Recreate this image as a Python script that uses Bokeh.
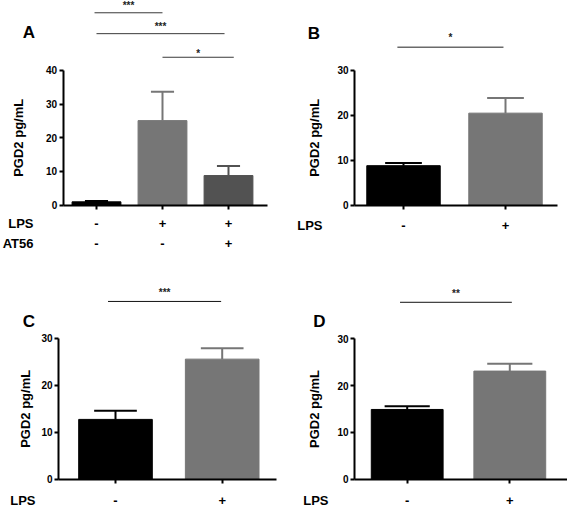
import math
from bokeh.plotting import figure
from bokeh.models import Range1d, FixedTicker, LinearAxis, ColumnDataSource
from bokeh.layouts import gridplot
from bokeh.embed import file_html
from bokeh.resources import INLINE
from bokeh.core.properties import value

FONT = "Liberation Sans"

# ---------------- data ----------------
# Panel A
a_groups = [1, 2, 3]
a_lps = ["-", "+", "+"]
a_at56 = ["-", "-", "+"]
a_mean = [1.0, 25.1, 8.8]
a_err = [0.25, 8.6, 2.8]
a_sig_x0 = [0.97, 1.0, 2.0]
a_sig_x1 = [2.0, 2.94, 3.08]
a_sig_y = [57.1, 50.9, 43.9]
a_sig_txt = ["***", "***", "*"]

# Panel B
b_groups = [1, 2]
b_lps = ["-", "+"]
b_mean = [8.8, 20.5]
b_err = [0.6, 3.4]
b_sig_x0 = [0.94]
b_sig_x1 = [1.98]
b_sig_y = [35.2]
b_sig_txt = ["*"]

# Panel C
c_groups = [1, 2]
c_lps = ["-", "+"]
c_mean = [12.75, 25.6]
c_err = [1.85, 2.3]
c_sig_x0 = [0.93]
c_sig_x1 = [1.99]
c_sig_y = [37.9]
c_sig_txt = ["***"]

# Panel D
d_groups = [1, 2]
d_lps = ["-", "+"]
d_mean = [14.9, 23.1]
d_err = [0.7, 1.55]
d_sig_x0 = [0.93]
d_sig_x1 = [2.02]
d_sig_y = [37.8]
d_sig_txt = ["**"]

y_ticks_40 = [0, 10, 20, 30, 40]
y_ticks_30 = [0, 10, 20, 30]
y_title = "PGD2 pg/mL"

BLACK = "#000000"
GREY = "#767676"
DARK = "#525252"


def txt(p, x, y, t, size, align="center", angle=0.0, yoff=0.0, color="black"):
    src = ColumnDataSource(dict(x=x, y=y, t=t))
    p.text(x="x", y="y", text="t", source=src, angle=angle, y_offset=yoff,
           text_align=align, text_baseline="middle",
           text_font=value(FONT), text_font_style="bold",
           text_font_size=size, text_color=color)


def panel(letter, groups, means, errs, colors, rows, sig_x0, sig_x1, sig_y,
          sig_txt, yticks, g):
    p = figure(width=g["w"], height=g["h"], x_range=Range1d(*g["xr"]),
               y_range=Range1d(*g["yr"]), output_backend="svg",
               toolbar_location=None, title=None,
               x_axis_location=None, y_axis_location=None)
    p.min_border = 0
    p.min_border_left = 0
    p.min_border_right = 0
    p.min_border_top = 0
    p.min_border_bottom = 0
    p.outline_line_color = None
    p.grid.visible = False
    p.background_fill_color = "white"
    p.border_fill_color = "white"

    ups = [m + e for m, e in zip(means, errs)]
    half = g["cap"] / 2.0
    src = ColumnDataSource(dict(x=groups, top=means, up=ups, c=colors,
                                cx0=[x - half for x in groups],
                                cx1=[x + half for x in groups]))
    p.vbar(x="x", top="top", bottom=0, width=g["bw"], fill_color="c",
           line_color="c", source=src)
    p.segment(x0="x", y0="top", x1="x", y1="up", line_color="c",
              line_width=2, source=src)
    p.segment(x0="cx0", y0="up", x1="cx1", y1="up", line_color="c",
              line_width=2, source=src)

    # significance brackets
    p.segment(x0=sig_x0, y0=sig_y, x1=sig_x1, y1=sig_y,
              line_color=g["sigc"], line_width=g["sigw"])
    sig_src = ColumnDataSource(dict(
        x=[(a + b) / 2.0 for a, b in zip(sig_x0, sig_x1)], y=sig_y,
        t=sig_txt, off=g["toff"]))
    p.text(x="x", y="y", text="t", y_offset="off", source=sig_src,
           text_align="center", text_baseline="middle",
           text_font=value(FONT), text_font_style="bold",
           text_font_size="10px", text_color="#222222")

    # axes placed inside the frame
    yax = LinearAxis(fixed_location=g["yax_x"], bounds=(0, yticks[-1]),
                     ticker=FixedTicker(ticks=yticks))
    yax.axis_line_width = 2
    yax.major_tick_line_width = 2
    yax.major_tick_out = 4
    yax.major_tick_in = 0
    yax.minor_tick_line_color = None
    yax.major_label_standoff = 2
    yax.major_label_text_font = FONT
    yax.major_label_text_font_style = "bold"
    yax.major_label_text_font_size = "10px"
    yax.major_label_text_color = "black"
    p.add_layout(yax, "left")

    xax = LinearAxis(fixed_location=0, bounds=(g["yax_x"], g["xend"]),
                     ticker=FixedTicker(ticks=groups))
    xax.axis_line_width = 2
    xax.major_tick_line_width = 2
    xax.major_tick_out = 4
    xax.major_tick_in = 0
    xax.minor_tick_line_color = None
    xax.major_label_overrides = {x: "" for x in groups}
    xax.major_label_text_font_size = "0px"
    xax.major_label_standoff = 0
    p.add_layout(xax, "below")

    # y title
    txt(p, [g["ylab_x"]], [yticks[-1] / 2.0], [y_title], "13px",
        angle=math.pi / 2)

    # condition rows under the x axis
    for (name, signs), off in zip(rows, g["roff"]):
        txt(p, groups, [0] * len(groups), signs, "13px", yoff=off)
        txt(p, [g["rlx"]], [0], [name], "13px", align="right", yoff=off)

    # panel letter
    txt(p, [g["lx"]], [g["ly"]], [letter], "17px")
    return p


ga = dict(w=284, h=255, xr=(-0.4545, 3.8485), yr=(-14.926, 60.742),
          yax_x=0.4955, xend=3.591, bw=0.74, cap=0.35, sigc="#3a3a3a",
          sigw=1, toff=[-7.3, -7.3, -4.2], ylab_x=-0.189,
          roff=[18.6, 38.6], rlx=0.0455, lx=-0.0227, ly=51.1)
gb = dict(w=283, h=255, xr=(-0.1667, 2.6078), yr=(-11.203, 45.59),
          yax_x=0.5196, xend=2.51, bw=0.72, cap=0.36, sigc="#6a6a6a",
          sigw=1.5, toff=[-9.5], ylab_x=0.1275,
          roff=[20.5], rlx=0.206, lx=0.1225, ly=38.35)
gc = dict(w=284, h=252, xr=(-0.0778, 2.5839), yr=(-6.034, 47.697),
          yax_x=0.4658, xend=2.509, bw=0.69, cap=0.40, sigc="#111111",
          sigw=1, toff=[-8.8], ylab_x=0.1565,
          roff=[21.6], rlx=0.2502, lx=0.1893, ly=33.62)
gd = dict(w=283, h=252, xr=(-0.1959, 2.5624), yr=(-6.047, 47.799),
          yax_x=0.4864, xend=2.56, bw=0.70, cap=0.44, sigc="#111111",
          sigw=1, toff=[-8.8], ylab_x=0.0965,
          roff=[21.6], rlx=0.233, lx=0.1452, ly=33.8)

pa = panel("A", a_groups, a_mean, a_err, [BLACK, GREY, DARK],
           [("LPS", a_lps), ("AT56", a_at56)],
           a_sig_x0, a_sig_x1, a_sig_y, a_sig_txt, y_ticks_40, ga)
pb = panel("B", b_groups, b_mean, b_err, [BLACK, GREY], [("LPS", b_lps)],
           b_sig_x0, b_sig_x1, b_sig_y, b_sig_txt, y_ticks_30, gb)
pc = panel("C", c_groups, c_mean, c_err, [BLACK, GREY], [("LPS", c_lps)],
           c_sig_x0, c_sig_x1, c_sig_y, c_sig_txt, y_ticks_30, gc)
pd = panel("D", d_groups, d_mean, d_err, [BLACK, GREY], [("LPS", d_lps)],
           d_sig_x0, d_sig_x1, d_sig_y, d_sig_txt, y_ticks_30, gd)

layout = gridplot([[pa, pb], [pc, pd]], toolbar_location=None)

open("out.html", "w").write(file_html(layout, INLINE))
